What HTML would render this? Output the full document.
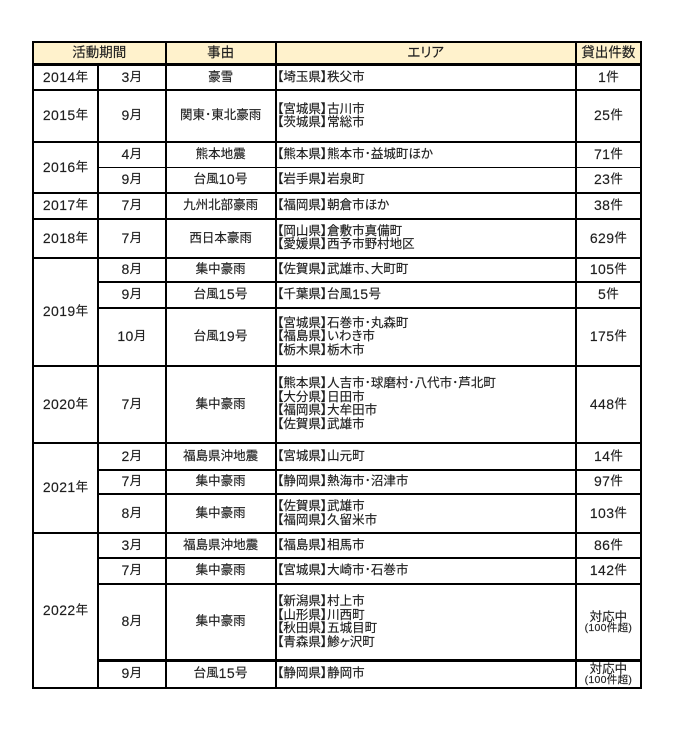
<!DOCTYPE html>
<html>
<head>
<meta charset="utf-8">
<style>
html,body{margin:0;padding:0;background:#fff;}
body{width:681px;height:740px;position:relative;overflow:hidden;font-family:"Liberation Sans","Noto Sans CJK JP",sans-serif;color:#1e1e1e;}
.l{position:absolute;background:#000;}
.c{position:absolute;display:flex;align-items:center;justify-content:center;text-align:center;font-size:12.5px;line-height:13.5px;white-space:nowrap;font-feature-settings:"palt";-webkit-text-stroke:0.15px #1e1e1e;}
.a{justify-content:flex-start;text-align:left;padding-left:0.5px;box-sizing:border-box;}
.h{font-size:13.5px;}
.n{font-size:14px;letter-spacing:0.4px;}
.sm{font-size:10.5px;line-height:11px;letter-spacing:0.3px;}
.hb{position:absolute;background:#FFF2CC;}
</style>
</head>
<body>
<div class="hb" style="left:34px;top:43px;width:606px;height:21px;"></div>

<!-- vertical lines -->
<div class="l" style="left:32px;top:41px;width:2px;height:648px;"></div>
<div class="l" style="left:97px;top:63px;width:2px;height:626px;"></div>
<div class="l" style="left:164.6px;top:41px;width:2px;height:648px;"></div>
<div class="l" style="left:274.6px;top:41px;width:2px;height:648px;"></div>
<div class="l" style="left:574.8px;top:41px;width:2px;height:648px;"></div>
<div class="l" style="left:640px;top:41px;width:2px;height:648px;"></div>

<!-- full horizontal lines -->
<div class="l" style="left:32px;top:41px;width:610px;height:2px;"></div>
<div class="l" style="left:32px;top:63.4px;width:610px;height:2.6px;"></div>
<div class="l" style="left:32px;top:88.5px;width:610px;height:2.6px;"></div>
<div class="l" style="left:32px;top:141px;width:610px;height:2.4px;"></div>
<div class="l" style="left:32px;top:192px;width:610px;height:2.4px;"></div>
<div class="l" style="left:32px;top:217.7px;width:610px;height:2.4px;"></div>
<div class="l" style="left:32px;top:256.6px;width:610px;height:2.2px;"></div>
<div class="l" style="left:32px;top:364.8px;width:610px;height:2.4px;"></div>
<div class="l" style="left:32px;top:441.8px;width:610px;height:2.2px;"></div>
<div class="l" style="left:32px;top:531.8px;width:610px;height:2.6px;"></div>
<div class="l" style="left:32px;top:686.8px;width:610px;height:2.4px;"></div>

<!-- inner horizontal lines -->
<div class="l" style="left:97px;top:166.6px;width:545px;height:1.8px;"></div>
<div class="l" style="left:97px;top:280.8px;width:545px;height:1.8px;"></div>
<div class="l" style="left:97px;top:307.4px;width:545px;height:1.9px;"></div>
<div class="l" style="left:97px;top:469px;width:545px;height:1.8px;"></div>
<div class="l" style="left:97px;top:493.4px;width:545px;height:1.9px;"></div>
<div class="l" style="left:97px;top:557.4px;width:545px;height:1.9px;"></div>
<div class="l" style="left:97px;top:583px;width:545px;height:2px;"></div>
<div class="l" style="left:97px;top:659.4px;width:545px;height:2.2px;"></div>

<!-- header -->
<div class="c h" style="left:34px;top:43px;width:130.6px;height:20.4px;">活動期間</div>
<div class="c h" style="left:166.6px;top:43px;width:108px;height:20.4px;">事由</div>
<div class="c h" style="left:276.6px;top:43px;width:298.2px;height:20.4px;">エリア</div>
<div class="c h" style="left:576.8px;top:43px;width:63.2px;height:20.4px;">貸出件数</div>

<!-- year cells -->
<div class="c" style="left:34px;top:66px;width:63px;height:22.5px;"><span class="n">2014</span>年</div>
<div class="c" style="left:34px;top:91.1px;width:63px;height:49.9px;"><span class="n">2015</span>年</div>
<div class="c" style="left:34px;top:143.4px;width:63px;height:48.6px;"><span class="n">2016</span>年</div>
<div class="c" style="left:34px;top:194.4px;width:63px;height:23.3px;"><span class="n">2017</span>年</div>
<div class="c" style="left:34px;top:220.1px;width:63px;height:36.5px;"><span class="n">2018</span>年</div>
<div class="c" style="left:34px;top:258.8px;width:63px;height:106px;"><span class="n">2019</span>年</div>
<div class="c" style="left:34px;top:367.2px;width:63px;height:74.6px;"><span class="n">2020</span>年</div>
<div class="c" style="left:34px;top:444px;width:63px;height:87.8px;"><span class="n">2021</span>年</div>
<div class="c" style="left:34px;top:534.4px;width:63px;height:152.4px;"><span class="n">2022</span>年</div>

<!-- 2014 -->
<div class="c" style="left:99px;top:66px;width:65.6px;height:22.5px;"><span class="n">3</span>月</div>
<div class="c" style="left:166.6px;top:66px;width:108px;height:22.5px;">豪雪</div>
<div class="c a" style="left:276.6px;top:66px;width:298.2px;height:22.5px;">【埼玉県】秩父市</div>
<div class="c" style="left:576.8px;top:66px;width:63.2px;height:22.5px;"><span class="n">1</span>件</div>
<!-- 2015 -->
<div class="c" style="left:99px;top:91.1px;width:65.6px;height:49.9px;"><span class="n">9</span>月</div>
<div class="c" style="left:166.6px;top:91.1px;width:108px;height:49.9px;">関東･東北豪雨</div>
<div class="c a" style="left:276.6px;top:91.1px;width:298.2px;height:49.9px;">【宮城県】古川市<br>【茨城県】常総市</div>
<div class="c" style="left:576.8px;top:91.1px;width:63.2px;height:49.9px;"><span class="n">25</span>件</div>
<!-- 2016a -->
<div class="c" style="left:99px;top:143.4px;width:65.6px;height:23.2px;"><span class="n">4</span>月</div>
<div class="c" style="left:166.6px;top:143.4px;width:108px;height:23.2px;">熊本地震</div>
<div class="c a" style="left:276.6px;top:143.4px;width:298.2px;height:23.2px;">【熊本県】熊本市･益城町ほか</div>
<div class="c" style="left:576.8px;top:143.4px;width:63.2px;height:23.2px;"><span class="n">71</span>件</div>
<!-- 2016b -->
<div class="c" style="left:99px;top:168.4px;width:65.6px;height:23.6px;"><span class="n">9</span>月</div>
<div class="c" style="left:166.6px;top:168.4px;width:108px;height:23.6px;">台風<span class="n">10</span>号</div>
<div class="c a" style="left:276.6px;top:168.4px;width:298.2px;height:23.6px;">【岩手県】岩泉町</div>
<div class="c" style="left:576.8px;top:168.4px;width:63.2px;height:23.6px;"><span class="n">23</span>件</div>
<!-- 2017 -->
<div class="c" style="left:99px;top:194.4px;width:65.6px;height:23.3px;"><span class="n">7</span>月</div>
<div class="c" style="left:166.6px;top:194.4px;width:108px;height:23.3px;">九州北部豪雨</div>
<div class="c a" style="left:276.6px;top:194.4px;width:298.2px;height:23.3px;">【福岡県】朝倉市ほか</div>
<div class="c" style="left:576.8px;top:194.4px;width:63.2px;height:23.3px;"><span class="n">38</span>件</div>
<!-- 2018 -->
<div class="c" style="left:99px;top:220.1px;width:65.6px;height:36.5px;"><span class="n">7</span>月</div>
<div class="c" style="left:166.6px;top:220.1px;width:108px;height:36.5px;">西日本豪雨</div>
<div class="c a" style="left:276.6px;top:220.1px;width:298.2px;height:36.5px;">【岡山県】倉敷市真備町<br>【愛媛県】西予市野村地区</div>
<div class="c" style="left:576.8px;top:220.1px;width:63.2px;height:36.5px;"><span class="n">629</span>件</div>
<!-- 2019a -->
<div class="c" style="left:99px;top:258.8px;width:65.6px;height:22px;"><span class="n">8</span>月</div>
<div class="c" style="left:166.6px;top:258.8px;width:108px;height:22px;">集中豪雨</div>
<div class="c a" style="left:276.6px;top:258.8px;width:298.2px;height:22px;">【佐賀県】武雄市、大町町</div>
<div class="c" style="left:576.8px;top:258.8px;width:63.2px;height:22px;"><span class="n">105</span>件</div>
<!-- 2019b -->
<div class="c" style="left:99px;top:282.6px;width:65.6px;height:24.8px;"><span class="n">9</span>月</div>
<div class="c" style="left:166.6px;top:282.6px;width:108px;height:24.8px;">台風<span class="n">15</span>号</div>
<div class="c a" style="left:276.6px;top:282.6px;width:298.2px;height:24.8px;">【千葉県】台風<span class="n">15</span>号</div>
<div class="c" style="left:576.8px;top:282.6px;width:63.2px;height:24.8px;"><span class="n">5</span>件</div>
<!-- 2019c -->
<div class="c" style="left:99px;top:309.3px;width:65.6px;height:55.5px;"><span class="n">10</span>月</div>
<div class="c" style="left:166.6px;top:309.3px;width:108px;height:55.5px;">台風<span class="n">19</span>号</div>
<div class="c a" style="left:276.6px;top:309.3px;width:298.2px;height:55.5px;">【宮城県】石巻市･丸森町<br>【福島県】いわき市<br>【栃木県】栃木市</div>
<div class="c" style="left:576.8px;top:309.3px;width:63.2px;height:55.5px;"><span class="n">175</span>件</div>
<!-- 2020 -->
<div class="c" style="left:99px;top:367.2px;width:65.6px;height:74.6px;"><span class="n">7</span>月</div>
<div class="c" style="left:166.6px;top:367.2px;width:108px;height:74.6px;">集中豪雨</div>
<div class="c a" style="left:276.6px;top:367.2px;width:298.2px;height:74.6px;">【熊本県】人吉市･球磨村･八代市･芦北町<br>【大分県】日田市<br>【福岡県】大牟田市<br>【佐賀県】武雄市</div>
<div class="c" style="left:576.8px;top:367.2px;width:63.2px;height:74.6px;"><span class="n">448</span>件</div>
<!-- 2021a -->
<div class="c" style="left:99px;top:444px;width:65.6px;height:25px;"><span class="n">2</span>月</div>
<div class="c" style="left:166.6px;top:444px;width:108px;height:25px;">福島県沖地震</div>
<div class="c a" style="left:276.6px;top:444px;width:298.2px;height:25px;">【宮城県】山元町</div>
<div class="c" style="left:576.8px;top:444px;width:63.2px;height:25px;"><span class="n">14</span>件</div>
<!-- 2021b -->
<div class="c" style="left:99px;top:470.8px;width:65.6px;height:22.6px;"><span class="n">7</span>月</div>
<div class="c" style="left:166.6px;top:470.8px;width:108px;height:22.6px;">集中豪雨</div>
<div class="c a" style="left:276.6px;top:470.8px;width:298.2px;height:22.6px;">【静岡県】熱海市･沼津市</div>
<div class="c" style="left:576.8px;top:470.8px;width:63.2px;height:22.6px;"><span class="n">97</span>件</div>
<!-- 2021c -->
<div class="c" style="left:99px;top:495.3px;width:65.6px;height:36.5px;"><span class="n">8</span>月</div>
<div class="c" style="left:166.6px;top:495.3px;width:108px;height:36.5px;">集中豪雨</div>
<div class="c a" style="left:276.6px;top:495.3px;width:298.2px;height:36.5px;">【佐賀県】武雄市<br>【福岡県】久留米市</div>
<div class="c" style="left:576.8px;top:495.3px;width:63.2px;height:36.5px;"><span class="n">103</span>件</div>
<!-- 2022a -->
<div class="c" style="left:99px;top:534.4px;width:65.6px;height:23px;"><span class="n">3</span>月</div>
<div class="c" style="left:166.6px;top:534.4px;width:108px;height:23px;">福島県沖地震</div>
<div class="c a" style="left:276.6px;top:534.4px;width:298.2px;height:23px;">【福島県】相馬市</div>
<div class="c" style="left:576.8px;top:534.4px;width:63.2px;height:23px;"><span class="n">86</span>件</div>
<!-- 2022b -->
<div class="c" style="left:99px;top:559.3px;width:65.6px;height:23.7px;"><span class="n">7</span>月</div>
<div class="c" style="left:166.6px;top:559.3px;width:108px;height:23.7px;">集中豪雨</div>
<div class="c a" style="left:276.6px;top:559.3px;width:298.2px;height:23.7px;">【宮城県】大崎市･石巻市</div>
<div class="c" style="left:576.8px;top:559.3px;width:63.2px;height:23.7px;"><span class="n">142</span>件</div>
<!-- 2022c -->
<div class="c" style="left:99px;top:585px;width:65.6px;height:74.4px;"><span class="n">8</span>月</div>
<div class="c" style="left:166.6px;top:585px;width:108px;height:74.4px;">集中豪雨</div>
<div class="c a" style="left:276.6px;top:585px;width:298.2px;height:74.4px;">【新潟県】村上市<br>【山形県】川西町<br>【秋田県】五城目町<br>【青森県】鯵ヶ沢町</div>
<div class="c" style="left:576.8px;top:585px;width:63.2px;height:74.4px;flex-direction:column;"><div style="line-height:12px;">対応中</div><div class="sm">(100件超)</div></div>
<!-- 2022d -->
<div class="c" style="left:99px;top:661.6px;width:65.6px;height:25.2px;"><span class="n">9</span>月</div>
<div class="c" style="left:166.6px;top:661.6px;width:108px;height:25.2px;">台風<span class="n">15</span>号</div>
<div class="c a" style="left:276.6px;top:661.6px;width:298.2px;height:25.2px;">【静岡県】静岡市</div>
<div class="c" style="left:576.8px;top:661.6px;width:63.2px;height:25.2px;flex-direction:column;overflow:hidden;"><div style="line-height:12px;">対応中</div><div class="sm">(100件超)</div></div>
</body>
</html>
